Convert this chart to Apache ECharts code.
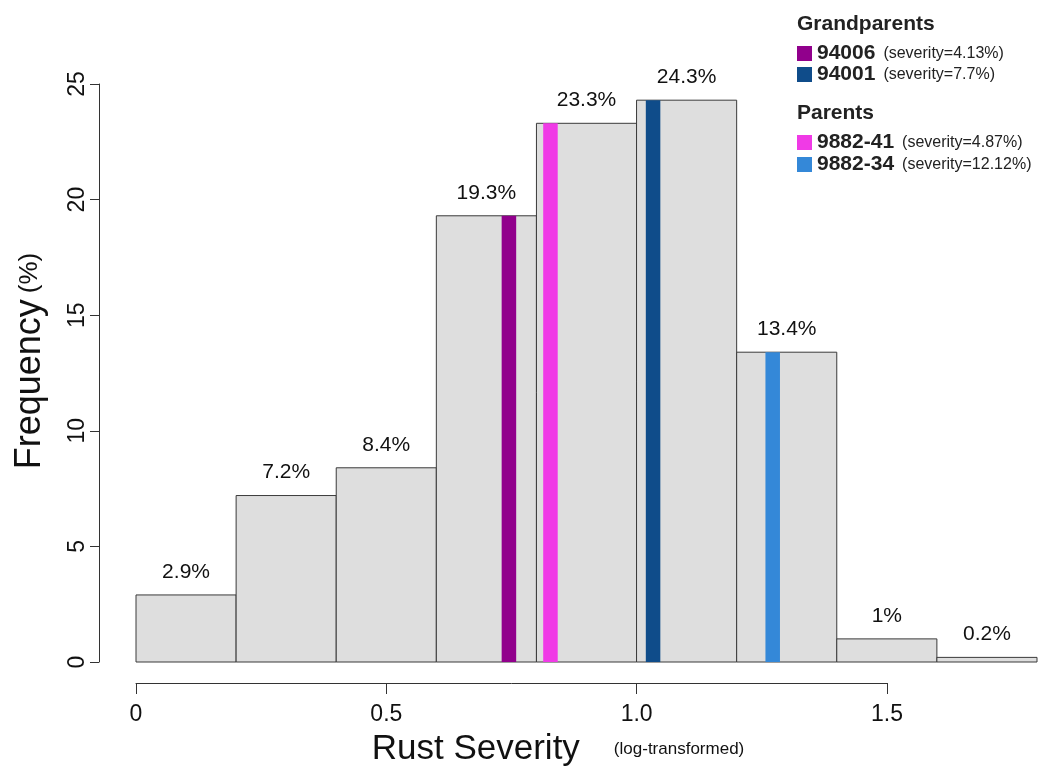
<!DOCTYPE html>
<html>
<head>
<meta charset="utf-8">
<script src="https://cdn.jsdelivr.net/npm/echarts@6/dist/echarts.min.js"></script>
<style>
  html, body { margin: 0; padding: 0; background: #fff; }
  #chart { width: 1039px; height: 772px; }
</style>
</head>
<body>
<div id="chart"></div>
<script>
// histogram bins (log-transformed rust severity)
const binStart = [0, 0.2, 0.4, 0.6, 0.8, 1.0, 1.2, 1.4, 1.6]
const binEnd = [0.2, 0.4, 0.6, 0.8, 1.0, 1.2, 1.4, 1.6, 1.8]
const frequency = [2.9, 7.2, 8.4, 19.3, 23.3, 24.3, 13.4, 1, 0.2]
const freqLabels = ['2.9%', '7.2%', '8.4%', '19.3%', '23.3%', '24.3%', '13.4%', '1%', '0.2%']

// parental lines: position on x axis, stripe height
const lineNames = ['94006', '94001', '9882-41', '9882-34']
const lineSeverity = ['4.13%', '7.7%', '4.87%', '12.12%']
const linePos = [0.745, 1.033, 0.828, 1.272]
const lineHeight = [19.3, 24.3, 23.3, 13.4]
const lineColors = ['#91008c', '#0f4c8a', '#f03ae6', '#3488d8']

const FONT = 'Liberation Sans, Arial, sans-serif'

const chart = echarts.init(document.getElementById('chart'))

const histData = binStart.map((s, i) => [s, binEnd[i], frequency[i]])

const stripeSeries = lineNames.map((name, i) => ({
  name,
  type: 'custom',
  xAxisIndex: 0,
  yAxisIndex: 0,
  z: 3,
  itemStyle: { color: lineColors[i] },
  renderItem: (params, api) => {
    const half = 0.0145
    const p0 = api.coord([api.value(0) - half, api.value(1)])
    const p1 = api.coord([api.value(0) + half, 0])
    return {
      type: 'rect',
      shape: { x: p0[0], y: p0[1], width: p1[0] - p0[0], height: p1[1] - p0[1] },
      style: { fill: lineColors[i] }
    }
  },
  data: [[linePos[i], lineHeight[i]]]
}))

const legendFormatter = name => {
  const i = lineNames.indexOf(name)
  return `{b|${name}}{s|(severity=${lineSeverity[i]})}`
}
const legendRich = {
  b: { fontFamily: FONT, fontWeight: 'bold', fontSize: 21, color: '#222', lineHeight: 23 },
  s: { fontFamily: FONT, fontSize: 16, color: '#222', lineHeight: 23, padding: [0, 0, 0, 8] }
}
const headerStyle = { fontFamily: FONT, fontWeight: 'bold', fontSize: 21, color: '#222' }

const option = {
  animation: false,
  backgroundColor: '#fff',
  title: [
    { text: 'Grandparents', left: 792, top: 9, textStyle: headerStyle },
    { text: 'Parents', left: 792, top: 98, textStyle: headerStyle }
  ],
  legend: [
    {
      data: ['94006', '94001'],
      orient: 'vertical',
      left: 792, top: 38,
      itemWidth: 15, itemHeight: 15, itemGap: 0,
      icon: 'rect',
      formatter: legendFormatter,
      textStyle: { rich: legendRich }
    },
    {
      data: ['9882-41', '9882-34'],
      orient: 'vertical',
      left: 792, top: 127,
      itemWidth: 15, itemHeight: 15, itemGap: 1,
      icon: 'rect',
      formatter: legendFormatter,
      textStyle: { rich: legendRich }
    }
  ],
  grid: [
    { left: 136, right: 2, top: 84, bottom: 110 },
    { left: 136, width: 751, top: 84, bottom: 110 }
  ],
  xAxis: [
    { gridIndex: 0, type: 'value', min: 0, max: 1.8, show: false },
    {
      gridIndex: 1, type: 'value', min: 0, max: 1.5, interval: 0.5,
      position: 'bottom', offset: 25,
      axisLine: { show: true, onZero: false, lineStyle: { color: '#333', width: 1 } },
      axisTick: { show: true, length: 11, lineStyle: { color: '#333' } },
      axisLabel: {
        margin: 20, fontSize: 23, fontFamily: FONT, color: '#111',
        formatter: v => (v === 0 ? '0' : v.toFixed(1))
      },
      splitLine: { show: false },
      name: '{a|Rust Severity}{b|(log-transformed)}',
      nameLocation: 'middle',
      nameGap: 49,
      nameTextStyle: {
        padding: [0, 0, 0, 93],
        rich: {
          a: { fontFamily: FONT, fontSize: 35, color: '#111' },
          b: { fontFamily: FONT, fontSize: 17, color: '#111', padding: [0, 0, 0, 34] }
        }
      }
    }
  ],
  yAxis: [
    {
      gridIndex: 0, type: 'value', min: 0, max: 25, interval: 5,
      offset: 37,
      axisLine: { show: true, onZero: false, lineStyle: { color: '#333', width: 1 } },
      axisTick: { show: true, length: 9, lineStyle: { color: '#333' } },
      axisLabel: { rotate: 90, margin: 10, fontSize: 23, fontFamily: FONT, color: '#111' },
      splitLine: { show: false },
      name: '{a|Frequency}{b|(%)}',
      nameLocation: 'middle',
      nameGap: 51,
      nameTextStyle: {
        padding: [0, 0, 0, 24],
        rich: {
          a: { fontFamily: FONT, fontSize: 36, color: '#111' },
          b: { fontFamily: FONT, fontSize: 26, color: '#111', padding: [0, 0, 0, 6] }
        }
      }
    },
    { gridIndex: 1, type: 'value', min: 0, max: 25, show: false }
  ],
  series: [
    {
      name: 'histogram',
      type: 'custom',
      xAxisIndex: 0,
      yAxisIndex: 0,
      z: 2,
      renderItem: (params, api) => {
        const p0 = api.coord([api.value(0), api.value(2)])
        const p1 = api.coord([api.value(1), 0])
        return {
          type: 'rect',
          shape: { x: p0[0], y: p0[1], width: p1[0] - p0[0], height: p1[1] - p0[1] },
          style: { fill: '#dedede', stroke: '#3a3a3a', lineWidth: 1 },
          textContent: {
            style: { text: freqLabels[params.dataIndex], fontFamily: FONT, fontSize: 21, fill: '#111' }
          },
          textConfig: { position: 'top', distance: 12 }
        }
      },
      data: histData
    },
    ...stripeSeries
  ]
}

chart.setOption(option)
</script>
</body>
</html>
